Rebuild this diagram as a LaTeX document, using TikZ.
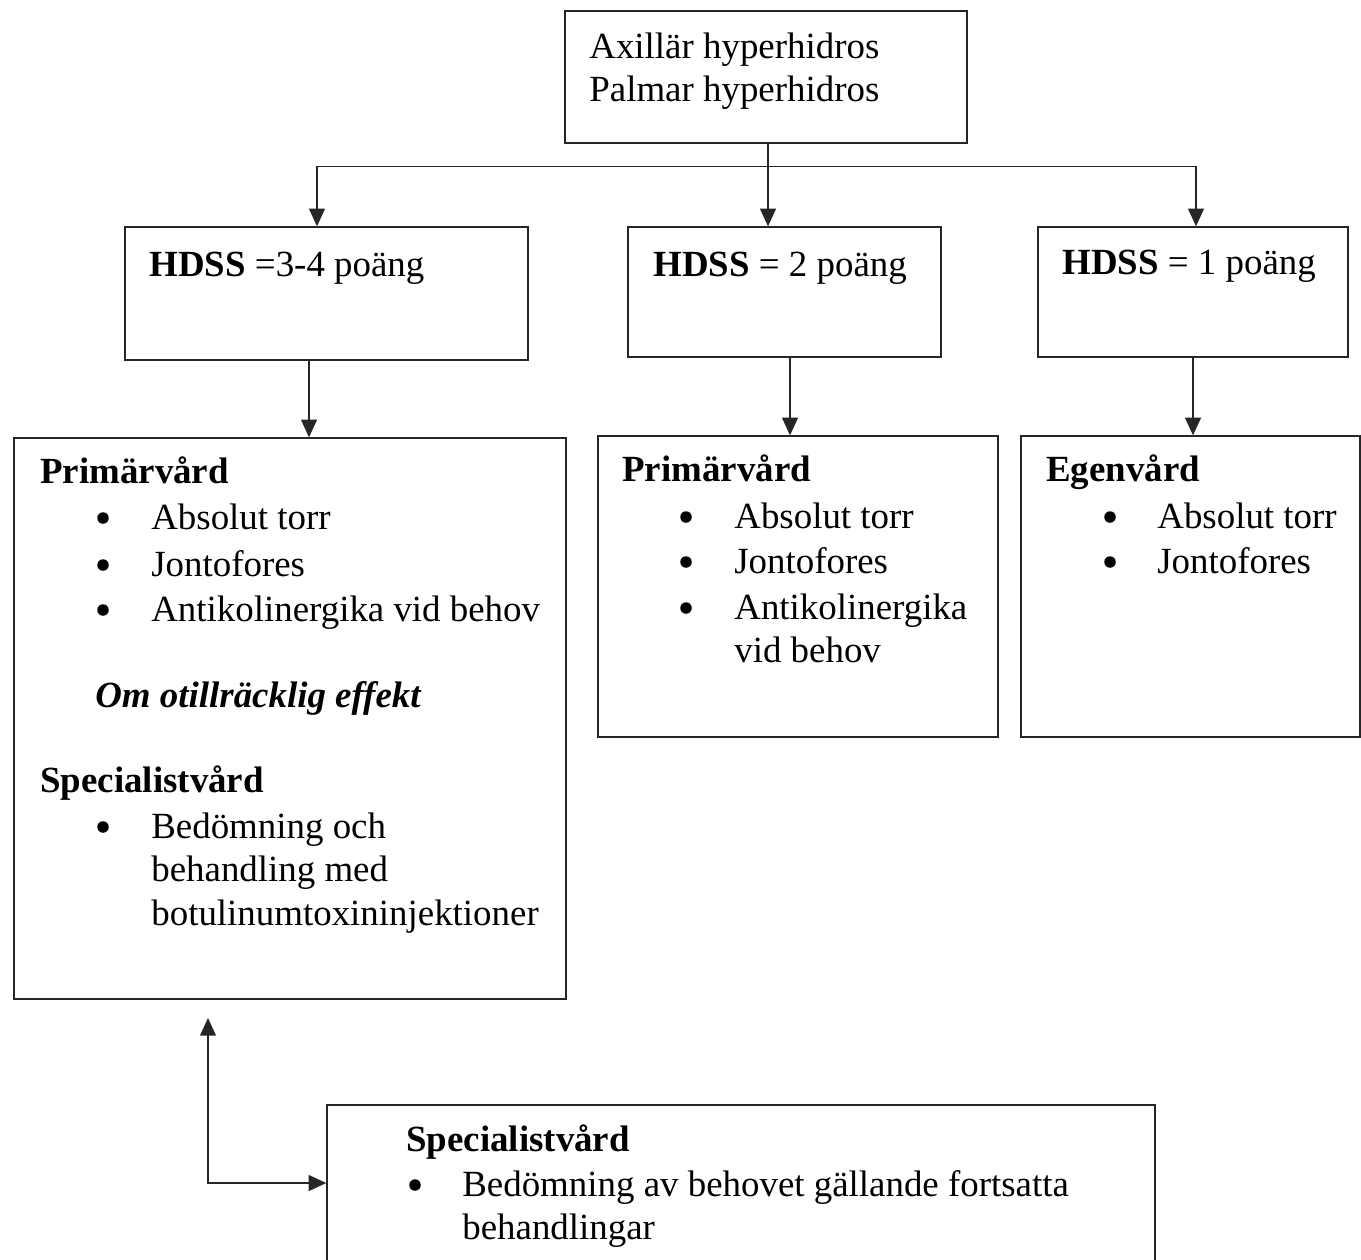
\documentclass[tikz,border=0pt]{standalone}
\usepackage{fontspec}
\setmainfont{Liberation Serif}
\usetikzlibrary{arrows.meta,fit}
\tikzset{
  box/.style={draw=black!85, line width=0.8pt, inner sep=0pt},
  txt/.style={anchor=base west, inner sep=0pt, font=\fontsize{21}{25}\selectfont},
  dot/.style={circle, fill=black, inner sep=0pt, minimum size=0.23cm},
  arr/.style={draw=black!85, line width=0.8pt, -{Triangle[width=9pt,length=10pt]}},
  arrboth/.style={draw=black!85, line width=0.8pt, {Triangle[width=9pt,length=10pt]}-{Triangle[width=9pt,length=10pt]}}
}

\begin{document}
\begin{tikzpicture}[x=0.02cm, y=-0.02cm]
			%%%%% START %%%%%
			\useasboundingbox (0,0) rectangle (1361,1259);
			
			\node[box, fit={(565,11) (967,143)}] (top) {};
			\node[txt] (ax) at (589,58) {Axillär hyperhidros};
			\node[txt] (pa) at (589,101) {Palmar hyperhidros};
			
			\node[box, fit={(125,227) (528,360)}] (hdssL) {};
			\node[box, fit={(628,227) (941,357)}] (hdssM) {};
			\node[box, fit={(1038,227) (1348,357)}] (hdssR) {};
			\node[txt] (sL) at (149,276) {\textbf{HDSS} =3-4 poäng};
			\node[txt] (sM) at (653,276) {\textbf{HDSS} = 2 poäng};
			\node[txt] (sR) at (1062,274) {\textbf{HDSS} = 1 poäng};
			
			\node[box, fit={(14,438) (566,999)}] (bigL) {};
			\node[box, fit={(598,436) (998,737)}] (bigM) {};
			\node[box, fit={(1021,436) (1360,737)}] (bigR) {};
			\node[box, fit={(327,1105) (1155,1275)}] (spec) {};
			
			% left column
			\node[txt] (pL) at (40,483) {\textbf{Primärvård}};
			\node[dot] (bL1) at (103,518) {};
			\node[txt] (iL1) at (151,529) {Absolut torr};
			\node[dot] (bL2) at (103,565) {};
			\node[txt] (iL2) at (151,576) {Jontofores};
			\node[dot] (bL3) at (103,610) {};
			\node[txt] (iL3) at (151,621) {Antikolinergika vid behov};
			\node[txt] (om) at (95,707) {\textbf{\textit{Om otillräcklig effekt}}};
			\node[txt] (spL) at (40,792) {\textbf{Specialistvård}};
			\node[dot] (bL4) at (103,827) {};
			\node[txt] (iL4) at (151,838) {Bedömning och};
			\node[txt] (iL5) at (151,881) {behandling med};
			\node[txt] (iL6) at (151,925) {botulinumtoxininjektioner};
			
			% middle column
			\node[txt] (pM) at (622,481) {\textbf{Primärvård}};
			\node[dot] (bM1) at (686,517) {};
			\node[txt] (iM1) at (734,528) {Absolut torr};
			\node[dot] (bM2) at (686,562) {};
			\node[txt] (iM2) at (734,573) {Jontofores};
			\node[dot] (bM3) at (686,608) {};
			\node[txt] (iM3) at (734,619) {Antikolinergika};
			\node[txt] (iM4) at (734,662) {vid behov};
			
			% right column
			\node[txt] (eR) at (1046,481) {\textbf{Egenvård}};
			\node[dot] (bR1) at (1110,517) {};
			\node[txt] (iR1) at (1157,528) {Absolut torr};
			\node[dot] (bR2) at (1110,562) {};
			\node[txt] (iR2) at (1157,573) {Jontofores};
			
			% bottom box
			\node[txt] (spB) at (406,1151) {\textbf{Specialistvård}};
			\node[dot] (bB1) at (415,1185) {};
			\node[txt] (iB1) at (462,1196) {Bedömning av behovet gällande fortsatta};
			\node[txt] (iB2) at (462,1239) {behandlingar};
			
			% connectors
			\coordinate (split) at ([yshift=-0.46cm]top.south);
			\draw[arr] ([xshift=0.04cm]top.south) -- ([xshift=0.04cm]top.south |- hdssM.north);
			\draw[arr] (split) -| ([xshift=-0.19cm]hdssL.north);
			\draw[arr] (split) -| ([xshift=0.06cm]hdssR.north);
			
			\draw[arr] ([xshift=-0.35cm]hdssL.south) -- ([xshift=-0.35cm]hdssL.south |- bigL.north);
			\draw[arr] ([xshift=0.11cm]hdssM.south) -- ([xshift=0.11cm]hdssM.south |- bigM.north);
			\draw[arr] (hdssR.south) -- (hdssR.south |- bigR.north);
			
			\coordinate (loopTop) at (208,1018);
			\draw[arrboth] (loopTop) |- ([yshift=0.14cm]spec.west);
			
			%%%%% END %%%%%
\end{tikzpicture}
\end{document}
